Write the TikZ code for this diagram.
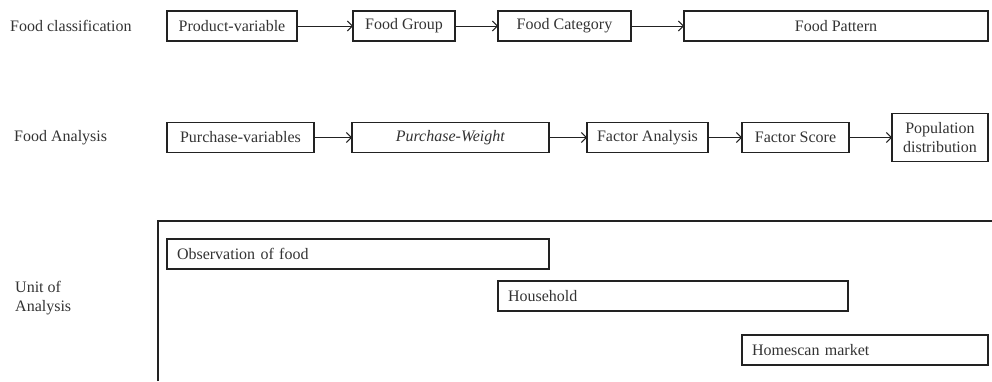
\documentclass[tikz,border=0pt]{standalone}
\usepackage{fontspec}
\setmainfont{Liberation Serif}
\usepackage{tikz}
\usetikzlibrary{arrows.meta, positioning}
\definecolor{colLine}{HTML}{222222}
\definecolor{colText}{HTML}{333333}
\tikzset{
  box/.style={
    draw=colLine, line width=1.2pt,
    minimum height=30pt, inner sep=3pt, outer sep=0pt,
    align=center, text=colText
  },
  unitbox/.style={
    box, align=left, inner xsep=10pt
  },
  rowlabel/.style={
    anchor=west, align=left, inner sep=0pt, text=colText
  },
  flowarr/.style={
    -{Straight Barb[length=5pt,width=10pt,line width=1pt]},
    line width=1pt, draw=colLine
  },
  frameline/.style={
    line width=1.2pt, draw=colLine
  }
}
\begin{document}
\begin{tikzpicture}[
    x=1pt, y=-1pt,
    every node/.style={font=\fontsize{16}{19}\selectfont}
  ]
  \useasboundingbox (0,0) rectangle (992,381);

  %% ── Row 1: Food classification ─────────────────────────────────
  \node[rowlabel] (lclass) at (10,26) {Food classification};
  \node[box, minimum width=130pt, anchor=west] (prod) at (167,26) {Product-variable};
  \node[box, minimum width=102pt, right=56pt of prod] (group) {Food Group};
  \node[box, minimum width=133pt, right=43pt of group] (categ) {Food Category};
  \node[box, minimum width=304pt, right=53pt of categ] (pattern) {Food Pattern};

  \draw[flowarr] (prod.east) -- (group.west);
  \draw[flowarr] (group.east) -- (categ.west);
  \draw[flowarr] (categ.east) -- (pattern.west);

  %% ── Row 2: Food Analysis ───────────────────────────────────────
  \node[rowlabel] (lanal) at (14,137.5) {Food Analysis};
  \node[box, minimum width=147pt, anchor=west] (purch) at (167,137.5) {Purchase-variables};
  \node[box, minimum width=197pt, right=38pt of purch] (weight) {\textit{Purchase-Weight}};
  \node[box, minimum width=121pt, right=38pt of weight] (fanal) {Factor Analysis};
  \node[box, minimum width=107pt, right=34pt of fanal] (fscore) {Factor Score};
  \node[box, minimum width=96pt, minimum height=48pt, right=43pt of fscore] (popul)
    {Population\\distribution};

  \draw[flowarr] (purch.east) -- (weight.west);
  \draw[flowarr] (weight.east) -- (fanal.west);
  \draw[flowarr] (fanal.east) -- (fscore.west);
  \draw[flowarr] (fscore.east) -- (popul.west);

  %% ── Row 3: Unit of Analysis ────────────────────────────────────
  \node[rowlabel] (lunit) at (15,298) {Unit of\\Analysis};
  \draw[frameline] (158,381) -- (158,221) -- (992,221);

  \node[unitbox, text width=362pt, anchor=west] (obs) at (167,254) {Observation of food};
  \node[unitbox, text width=330pt, anchor=west] (house) at (498,296) {Household};
  \node[unitbox, text width=226pt, anchor=west] (market) at (742,350) {Homescan market};

\end{tikzpicture}
\end{document}
